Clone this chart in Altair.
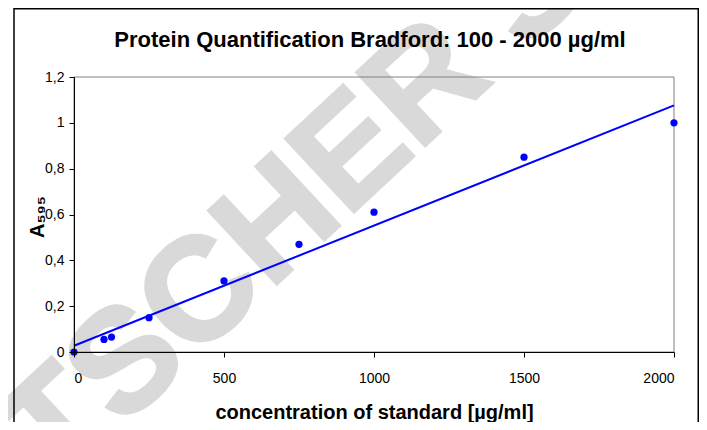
import altair as alt
import pandas as pd

# data
concentration = [0, 100, 125, 250, 500, 750, 1000, 1500, 2000]
absorbance = [0.0, 0.055, 0.065, 0.15, 0.31, 0.47, 0.61, 0.85, 1.0]
x_ticks = [0, 500, 1000, 1500, 2000]
y_ticks = [0, 0.2, 0.4, 0.6, 0.8, 1, 1.2]
chart_title = ["Protein Quantification Bradford: 100 - 2000 µg/ml"]
x_title = "concentration of standard [µg/ml]"
y_title = "A₅₉₅"
watermark = ["TSCHER S"]

df = pd.DataFrame({"conc": concentration, "abs": absorbance})
FONT = "Liberation Sans"
BLUE = "#0000ff"

x_enc = alt.X(
    "conc:Q",
    scale=alt.Scale(domain=[0, 2000], nice=False),
    axis=alt.Axis(
        values=x_ticks, format="d", title=x_title,
        titleX=300, titleY=66, titleAlign="center", titleBaseline="alphabetic",
        titleFontSize=20, titleFontWeight="bold", zindex=1,
    ),
)
y_enc = alt.Y(
    "abs:Q",
    scale=alt.Scale(domain=[0, 1.2], nice=False),
    axis=alt.Axis(
        values=y_ticks, labelExpr="replace(toString(datum.value), '.', ',')",
        title=y_title, titleAngle=270, titleX=-31, titleY=139.5,
        titleAlign="center", titleBaseline="alphabetic",
        titleFontSize=20, titleFontWeight="bold", zindex=1,
    ),
)

wm = alt.Chart(pd.DataFrame({"t": watermark})).mark_text(
    angle=317, fontSize=146, fontWeight="bold", font=FONT, color="#d9d9d9",
    stroke="#d9d9d9", strokeWidth=3, align="center", baseline="middle",
).encode(text="t:N", x=alt.value(222), y=alt.value(129))

frame = alt.Chart(pd.DataFrame({"a": [0]})).mark_rect(
    fill=None, stroke="#808080", strokeWidth=1
).encode(
    x=alt.datum(0, scale=alt.Scale(domain=[0, 2000], nice=False)),
    x2=alt.datum(2000),
    y=alt.datum(0, scale=alt.Scale(domain=[0, 1.2], nice=False)),
    y2=alt.datum(1.2),
)

outer = alt.Chart(pd.DataFrame({"a": [0]})).mark_rect(
    fill=None, stroke="#000000", strokeWidth=1.5
).encode(x=alt.value(-60), x2=alt.value(624.25), y=alt.value(-68.25), y2=alt.value(420))

line = alt.Chart(df).transform_regression(
    "conc", "abs", extent=[0, 2000]
).mark_line(color=BLUE, strokeWidth=2).encode(x=x_enc, y=y_enc)

points = alt.Chart(df).mark_circle(size=52, color=BLUE, opacity=1).encode(x=x_enc, y=y_enc)

title = alt.Chart(pd.DataFrame({"t": chart_title})).mark_text(
    fontSize=22, fontWeight="bold", font=FONT, color="#000000",
    align="center", baseline="alphabetic"
).encode(text="t:N", x=alt.value(296), y=alt.value(-30))

chart = alt.layer(wm, frame, outer, line, points, title).properties(
    width=600, height=275,
    padding={"left": 66, "top": 69, "right": 25, "bottom": 70},
    autosize=alt.AutoSizeParams(type="none"),
).configure_view(stroke=None).configure_axis(
    grid=False, domainColor="#000000", domainWidth=1, tickColor="#000000",
    tickSize=5, labelFont=FONT, labelFontSize=14, labelColor="#000000",
    titleFont=FONT, titleColor="#000000", labelPadding=5,
).configure_axisX(labelPadding=14)

chart.save("out.html", embed_options={"renderer": "svg", "actions": False})
